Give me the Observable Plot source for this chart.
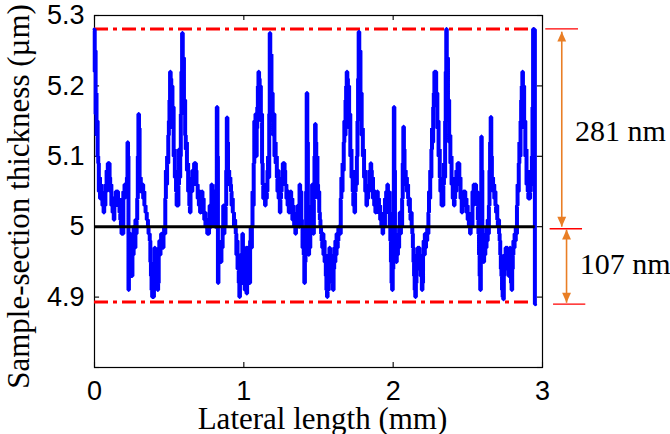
<!DOCTYPE html>
<html><head><meta charset="utf-8">
<script src="https://cdn.jsdelivr.net/npm/d3@7"></script>
<script src="https://cdn.jsdelivr.net/npm/@observablehq/plot@0.6"></script>
<style>html,body{margin:0;padding:0;background:#fff}#chart svg{display:block}</style>
</head><body><div id="chart"></div>
<script>
// ---- data ----
const xTicks = [0, 1, 2, 3];
const yTicks = [4.8, 4.9, 5, 5.1, 5.2, 5.3];
const yTickLabels = [4.9, 5, 5.1, 5.2, 5.3];
const meanLevel = 5.0;
const boundLevels = [5.281, 4.893];
const rangeLabels = ["281 nm", "107 nm"];
const profileEnd = 2.951;
// [lateral length (mm), thickness (µm)]
const profile = [
[0.000,5.28],[0.003,5.22],[0.006,5.25],[0.009,5.16],[0.012,5.19],[0.015,5.13],[0.019,5.15],[0.023,5.10],[0.027,5.09],[0.031,5.05],[0.035,5.07],[0.039,5.04],[0.043,5.06],[0.047,5.04],[0.051,5.05],[0.055,5.03],[0.059,5.04],[0.063,5.02],[0.067,5.04],[0.071,5.03],[0.075,5.06],[0.079,5.05],[0.083,5.08],[0.087,5.07],[0.091,5.09],[0.095,5.08],[0.099,5.09],[0.103,5.07],[0.107,5.05],[0.111,5.06],[0.115,5.03],[0.119,5.04],[0.123,5.02],[0.127,5.04],[0.131,5.01],[0.135,5.04],[0.140,5.03],[0.145,5.05],[0.150,5.04],[0.155,5.05],[0.160,5.03],[0.165,5.04],[0.170,5.02],[0.175,5.01],[0.179,5.00],[0.183,4.99],[0.187,5.00],[0.191,4.99],[0.195,5.05],[0.199,5.04],[0.203,5.06],[0.207,5.05],[0.211,5.06],[0.215,5.05],[0.219,5.07],[0.223,5.12],[0.226,5.10],[0.229,4.91],[0.232,4.96],[0.236,4.94],[0.240,4.99],[0.244,4.96],[0.248,4.97],[0.252,4.93],[0.256,4.97],[0.260,4.96],[0.264,5.00],[0.268,4.98],[0.272,4.97],[0.276,5.01],[0.280,4.99],[0.284,5.01],[0.288,5.04],[0.292,5.10],[0.296,5.16],[0.300,5.14],[0.304,5.06],[0.308,5.07],[0.312,5.05],[0.316,5.06],[0.320,5.05],[0.324,5.06],[0.328,5.04],[0.332,5.05],[0.336,5.03],[0.340,5.03],[0.344,5.02],[0.348,5.02],[0.352,5.01],[0.356,5.01],[0.360,5.00],[0.364,4.99],[0.368,4.99],[0.372,4.98],[0.376,4.95],[0.380,4.93],[0.384,4.91],[0.388,4.90],[0.392,4.91],[0.396,4.90],[0.400,4.93],[0.404,4.97],[0.408,4.94],[0.412,4.95],[0.416,4.93],[0.420,4.96],[0.424,4.91],[0.428,4.92],[0.432,4.97],[0.436,4.98],[0.440,4.96],[0.444,4.97],[0.448,4.99],[0.452,4.97],[0.456,4.98],[0.460,4.97],[0.464,4.99],[0.468,5.00],[0.472,4.99],[0.476,5.04],[0.480,5.08],[0.484,5.06],[0.488,5.10],[0.492,5.09],[0.496,5.13],[0.500,5.15],[0.504,5.18],[0.508,5.22],[0.512,5.21],[0.516,5.18],[0.520,5.20],[0.524,5.14],[0.528,5.17],[0.532,5.10],[0.536,5.11],[0.540,5.07],[0.544,5.08],[0.548,5.05],[0.552,5.03],[0.556,5.05],[0.560,5.03],[0.564,5.06],[0.568,5.11],[0.572,5.07],[0.576,5.10],[0.580,5.16],[0.584,5.22],[0.589,5.275],
[0.593,5.20],[0.597,5.24],[0.601,5.16],[0.605,5.18],[0.609,5.13],[0.613,5.11],[0.617,5.12],[0.621,5.08],[0.625,5.09],[0.629,5.05],[0.633,5.07],[0.637,5.03],[0.641,5.02],[0.645,5.05],[0.649,5.07],[0.653,5.05],[0.657,5.08],[0.661,5.06],[0.665,5.08],[0.669,5.09],[0.673,5.07],[0.677,5.09],[0.681,5.08],[0.685,5.06],[0.689,5.06],[0.693,5.04],[0.697,5.05],[0.701,5.03],[0.705,5.05],[0.709,5.02],[0.713,5.04],[0.717,5.03],[0.721,5.05],[0.725,5.02],[0.729,5.04],[0.733,5.02],[0.737,5.01],[0.741,5.02],[0.745,5.00],[0.749,5.01],[0.753,5.00],[0.757,4.99],[0.761,5.01],[0.765,4.99],[0.769,5.00],[0.773,5.03],[0.777,5.01],[0.781,5.00],[0.785,5.06],[0.789,5.02],[0.793,5.04],[0.797,5.01],[0.801,5.05],[0.805,5.02],[0.809,5.00],[0.813,5.03],[0.817,5.06],[0.821,5.17],[0.825,5.10],[0.828,4.92],[0.832,4.96],[0.836,4.98],[0.840,4.95],[0.844,4.97],[0.848,4.95],[0.852,4.98],[0.856,4.97],[0.860,5.00],[0.864,5.03],[0.868,4.99],[0.872,5.01],[0.876,5.00],[0.880,5.03],[0.884,5.08],[0.888,5.155],[0.892,5.12],[0.896,5.07],[0.900,5.08],[0.904,5.06],[0.908,5.07],[0.912,5.06],[0.916,5.05],[0.920,5.03],[0.924,5.04],[0.928,5.02],[0.932,5.02],[0.936,5.00],[0.940,5.01],[0.944,5.00],[0.948,4.99],[0.952,4.96],[0.956,4.98],[0.960,4.94],[0.964,4.96],[0.968,4.92],[0.972,4.90],[0.976,4.93],[0.980,4.96],[0.984,4.92],[0.988,4.95],[0.992,4.99],[0.996,4.94],[1.000,4.96],[1.004,4.92],[1.008,4.91],[1.012,4.95],[1.016,4.97],[1.020,4.905],[1.024,4.93],[1.028,4.97],[1.032,4.94],[1.036,4.97],[1.040,4.92],[1.044,4.98],[1.048,5.00],[1.052,4.97],[1.056,5.00],[1.060,5.05],[1.064,5.03],[1.068,5.09],[1.072,5.15],[1.076,5.12],[1.080,5.16],[1.084,5.10],[1.088,5.14],[1.092,5.17],[1.096,5.20],[1.100,5.22],[1.104,5.21],[1.108,5.17],[1.112,5.20],[1.116,5.15],[1.120,5.16],[1.124,5.09],[1.128,5.06],[1.132,5.04],[1.136,5.06],[1.140,5.05],[1.144,5.03],[1.148,5.06],[1.152,5.04],[1.156,5.05],[1.160,5.08],[1.164,5.10],[1.168,5.07],[1.172,5.16],[1.175,5.275],
[1.179,5.20],[1.183,5.245],[1.187,5.16],[1.191,5.19],[1.195,5.15],[1.199,5.13],[1.203,5.16],[1.207,5.10],[1.211,5.12],[1.215,5.09],[1.219,5.10],[1.223,5.07],[1.227,5.05],[1.231,5.08],[1.235,5.04],[1.239,5.06],[1.243,5.02],[1.247,5.04],[1.251,5.05],[1.255,5.07],[1.259,5.06],[1.263,5.09],[1.267,5.07],[1.271,5.09],[1.275,5.08],[1.279,5.06],[1.283,5.06],[1.287,5.04],[1.291,5.05],[1.295,5.03],[1.299,5.05],[1.303,5.02],[1.307,5.04],[1.311,5.03],[1.315,5.05],[1.319,5.02],[1.323,5.04],[1.327,5.01],[1.331,5.03],[1.335,5.02],[1.339,5.00],[1.343,5.01],[1.347,4.99],[1.351,5.00],[1.355,5.02],[1.359,5.00],[1.363,5.03],[1.367,5.01],[1.371,5.00],[1.375,5.06],[1.379,5.03],[1.383,5.05],[1.387,5.01],[1.391,5.00],[1.395,4.97],[1.399,4.99],[1.403,4.96],[1.407,4.92],[1.411,4.95],[1.415,4.97],[1.419,5.05],[1.423,5.19],[1.427,5.12],[1.431,4.98],[1.435,4.96],[1.439,5.00],[1.443,4.97],[1.447,5.01],[1.451,4.99],[1.455,5.03],[1.459,5.06],[1.463,5.01],[1.467,4.99],[1.471,5.04],[1.475,5.10],[1.479,5.146],[1.483,5.12],[1.487,5.09],[1.491,5.10],[1.495,5.06],[1.499,5.04],[1.503,5.05],[1.507,5.02],[1.511,5.01],[1.515,5.00],[1.519,4.99],[1.523,4.98],[1.527,4.97],[1.531,4.99],[1.535,4.96],[1.539,4.98],[1.543,4.95],[1.547,4.96],[1.551,4.93],[1.555,4.91],[1.559,4.90],[1.563,4.93],[1.567,4.91],[1.571,4.95],[1.575,4.97],[1.579,4.94],[1.583,4.96],[1.587,4.93],[1.591,4.95],[1.595,4.92],[1.599,4.91],[1.603,4.94],[1.607,4.97],[1.611,4.95],[1.615,4.98],[1.619,4.96],[1.623,4.99],[1.627,4.97],[1.631,4.98],[1.635,5.00],[1.639,4.99],[1.643,5.00],[1.647,4.99],[1.651,5.04],[1.655,5.07],[1.659,5.05],[1.663,5.09],[1.667,5.08],[1.671,5.12],[1.675,5.15],[1.679,5.13],[1.683,5.18],[1.687,5.20],[1.691,5.22],[1.695,5.21],[1.699,5.18],[1.703,5.20],[1.707,5.14],[1.711,5.16],[1.715,5.10],[1.719,5.11],[1.723,5.07],[1.727,5.08],[1.731,5.05],[1.735,5.03],[1.739,5.05],[1.743,5.02],[1.747,5.05],[1.751,5.08],[1.755,5.06],[1.759,5.10],[1.763,5.15],[1.767,5.21],[1.771,5.277],
[1.775,5.21],[1.779,5.25],[1.783,5.17],[1.787,5.19],[1.791,5.13],[1.795,5.14],[1.799,5.10],[1.803,5.11],[1.807,5.07],[1.811,5.08],[1.815,5.05],[1.819,5.06],[1.823,5.03],[1.827,5.05],[1.831,5.04],[1.835,5.06],[1.839,5.05],[1.843,5.08],[1.847,5.07],[1.851,5.09],[1.855,5.08],[1.859,5.06],[1.863,5.07],[1.867,5.04],[1.871,5.05],[1.875,5.03],[1.879,5.05],[1.883,5.02],[1.887,5.04],[1.891,5.03],[1.895,5.05],[1.899,5.03],[1.903,5.04],[1.907,5.02],[1.911,5.03],[1.915,5.01],[1.919,5.02],[1.923,5.00],[1.927,5.01],[1.931,4.99],[1.935,5.00],[1.939,5.02],[1.943,5.00],[1.947,5.04],[1.951,5.02],[1.955,5.05],[1.959,5.03],[1.963,5.06],[1.967,5.04],[1.971,5.05],[1.975,5.02],[1.979,5.00],[1.983,4.98],[1.987,4.95],[1.991,4.92],[1.995,4.91],[1.999,4.94],[2.003,5.05],[2.006,5.17],[2.010,5.08],[2.014,4.96],[2.018,4.98],[2.022,4.95],[2.026,4.97],[2.030,4.96],[2.034,4.99],[2.038,4.97],[2.042,5.00],[2.046,5.02],[2.050,4.99],[2.054,5.01],[2.058,5.00],[2.062,5.04],[2.066,5.09],[2.070,5.142],[2.074,5.11],[2.078,5.07],[2.082,5.08],[2.086,5.06],[2.090,5.07],[2.094,5.05],[2.098,5.06],[2.102,5.04],[2.106,5.03],[2.110,5.04],[2.114,5.02],[2.118,5.01],[2.122,5.02],[2.126,5.00],[2.130,4.99],[2.134,4.97],[2.138,4.95],[2.142,4.93],[2.146,4.91],[2.150,4.90],[2.154,4.92],[2.158,4.96],[2.162,4.94],[2.166,4.97],[2.170,4.95],[2.174,4.97],[2.178,4.94],[2.182,4.96],[2.186,4.93],[2.190,4.95],[2.194,4.91],[2.198,4.92],[2.202,4.96],[2.206,4.98],[2.210,4.96],[2.214,4.99],[2.218,4.97],[2.222,4.99],[2.226,4.98],[2.230,5.00],[2.234,4.99],[2.238,5.02],[2.242,5.05],[2.246,5.04],[2.250,5.08],[2.254,5.07],[2.258,5.11],[2.262,5.14],[2.266,5.12],[2.270,5.17],[2.274,5.19],[2.278,5.22],[2.282,5.21],[2.286,5.22],[2.290,5.18],[2.294,5.19],[2.298,5.14],[2.302,5.15],[2.306,5.10],[2.310,5.11],[2.314,5.07],[2.318,5.05],[2.322,5.06],[2.326,5.03],[2.330,5.04],[2.334,5.03],[2.338,5.06],[2.342,5.09],[2.346,5.07],[2.350,5.15],[2.354,5.22],[2.357,5.281],
[2.361,5.20],[2.365,5.24],[2.369,5.16],[2.373,5.18],[2.377,5.12],[2.381,5.13],[2.385,5.09],[2.389,5.10],[2.393,5.06],[2.397,5.07],[2.401,5.04],[2.405,5.05],[2.409,5.03],[2.413,5.04],[2.417,5.06],[2.421,5.05],[2.425,5.08],[2.429,5.07],[2.433,5.09],[2.437,5.08],[2.441,5.09],[2.445,5.06],[2.449,5.07],[2.453,5.04],[2.457,5.05],[2.461,5.02],[2.465,5.04],[2.469,5.03],[2.473,5.05],[2.477,5.04],[2.481,5.05],[2.485,5.03],[2.489,5.04],[2.493,5.02],[2.497,5.03],[2.501,5.01],[2.505,5.02],[2.509,5.00],[2.513,5.01],[2.517,4.99],[2.521,5.00],[2.525,5.02],[2.529,5.00],[2.533,5.05],[2.537,5.03],[2.541,5.06],[2.545,5.04],[2.549,5.05],[2.553,5.06],[2.557,5.04],[2.561,5.05],[2.565,5.03],[2.569,5.01],[2.573,4.99],[2.577,4.96],[2.581,4.93],[2.585,4.91],[2.589,5.05],[2.591,5.128],[2.595,5.08],[2.599,4.96],[2.603,4.98],[2.607,4.95],[2.611,4.97],[2.615,4.96],[2.619,4.99],[2.623,4.97],[2.627,5.00],[2.631,4.98],[2.635,5.01],[2.639,4.99],[2.643,5.03],[2.647,5.08],[2.651,5.12],[2.655,5.156],[2.659,5.10],[2.663,5.06],[2.667,5.07],[2.671,5.05],[2.675,5.06],[2.679,5.04],[2.683,5.05],[2.687,5.03],[2.691,5.02],[2.695,5.03],[2.699,5.01],[2.703,5.00],[2.707,5.01],[2.711,4.99],[2.715,4.98],[2.719,4.96],[2.723,4.94],[2.727,4.93],[2.731,4.91],[2.735,4.90],[2.739,4.897],[2.743,4.93],[2.747,4.96],[2.751,4.94],[2.755,4.97],[2.759,4.95],[2.763,4.97],[2.767,4.94],[2.771,4.96],[2.775,4.93],[2.779,4.95],[2.783,4.97],[2.787,4.94],[2.791,4.92],[2.795,4.91],[2.799,4.94],[2.803,4.96],[2.807,4.98],[2.811,4.97],[2.815,4.99],[2.819,4.98],[2.823,5.00],[2.827,4.99],[2.831,5.03],[2.835,5.06],[2.839,5.05],[2.843,5.09],[2.847,5.12],[2.851,5.10],[2.855,5.15],[2.859,5.18],[2.863,5.20],[2.867,5.22],[2.871,5.19],[2.875,5.20],[2.879,5.14],[2.883,5.15],[2.887,5.10],[2.891,5.11],[2.895,5.06],[2.899,5.08],[2.903,5.05],[2.907,5.04],[2.911,5.06],[2.915,5.04],[2.919,5.05],[2.923,5.08],[2.927,5.06],[2.931,5.10],[2.935,5.17],[2.939,5.281],[2.943,5.23],[2.947,5.28],[2.951,4.89]
];

// ---- styling / layout ----
const BLUE = "#0000ff", RED = "#ff0000", ORANGE = "#e97e25";
const serif = "'Liberation Serif', 'Times New Roman', serif";

const triUp = {draw(ctx, size) { const r = Math.sqrt(size / Math.PI), w = r * 1.3, h = r * 2.9;
  ctx.moveTo(0, 0); ctx.lineTo(w, h); ctx.lineTo(-w, h); ctx.closePath(); }};
const triDown = {draw(ctx, size) { const r = Math.sqrt(size / Math.PI), w = r * 1.3, h = r * 2.9;
  ctx.moveTo(0, 0); ctx.lineTo(w, -h); ctx.lineTo(-w, -h); ctx.closePath(); }};

const upper = boundLevels[0], lower = boundLevels[1];
const arrowX1 = 3.129, arrowX2 = 3.161;

const chart = Plot.plot({
  width: 670, height: 434,
  marginLeft: 94, marginRight: 128, marginTop: 15, marginBottom: 67,
  x: {domain: [0, 3]},
  y: {domain: [4.8, 5.3]},
  style: {fontFamily: "'Liberation Sans', Arial, sans-serif", fontSize: "27px", background: "white", color: "black", overflow: "visible"},
  marks: [
    Plot.frame({stroke: "black", strokeWidth: 1.2}),
    // inward ticks on all four sides
    Plot.ruleY(yTicks, {x1: 0, x2: 0.034, stroke: "black", strokeWidth: 1.1}),
    Plot.ruleY(yTicks, {x1: 2.966, x2: 3, stroke: "black", strokeWidth: 1.1}),
    Plot.ruleX(xTicks, {y1: 4.8, y2: 4.8072, stroke: "black", strokeWidth: 1.1}),
    Plot.ruleX(xTicks, {y1: 5.2928, y2: 5.3, stroke: "black", strokeWidth: 1.1}),
    Plot.axisY({ticks: yTickLabels, tickSize: 0, tickPadding: 10, tickFormat: d => String(d), label: null}),
    Plot.axisX({ticks: xTicks, tickSize: 0, tickPadding: 13, tickFormat: d => String(d), label: null}),
    // bounds (dash-dot)
    Plot.ruleY(boundLevels, {x1: 0, x2: profileEnd, stroke: RED, strokeWidth: 3, strokeDasharray: "14,5,4,5"}),
    // profile
    Plot.line(profile, {x: d => d[0], y: d => d[1], stroke: BLUE, strokeWidth: 4, curve: "step", strokeLinejoin: "miter"}),
    // mean line
    Plot.ruleY([meanLevel], {x1: 0, x2: profileEnd, stroke: "black", strokeWidth: 3}),
    // right-side annotation: red reference ticks
    Plot.ruleY([upper], {x1: 3.022, x2: 3.241, stroke: RED, strokeWidth: 1.4}),
    Plot.ruleY([meanLevel - 0.003], {x1: 3.051, x2: 3.268, stroke: RED, strokeWidth: 1.4}),
    Plot.ruleY([lower - 0.003], {x1: 3.074, x2: 3.29, stroke: RED, strokeWidth: 1.4}),
    // arrows
    Plot.link([0], {x1: arrowX1, x2: arrowX1, y1: upper - 0.004, y2: meanLevel, stroke: ORANGE, strokeWidth: 1.6}),
    Plot.link([0], {x1: arrowX2, x2: arrowX2, y1: meanLevel - 0.004, y2: lower - 0.001, stroke: ORANGE, strokeWidth: 1.6}),
    Plot.dot([upper - 0.004], {x: arrowX1, y: d => d, symbol: triUp, r: 3.4, fill: ORANGE, stroke: "none"}),
    Plot.dot([meanLevel], {x: arrowX1, y: d => d, symbol: triDown, r: 3.4, fill: ORANGE, stroke: "none"}),
    Plot.dot([meanLevel - 0.004], {x: arrowX2, y: d => d, symbol: triUp, r: 3.4, fill: ORANGE, stroke: "none"}),
    Plot.dot([lower - 0.001], {x: arrowX2, y: d => d, symbol: triDown, r: 3.4, fill: ORANGE, stroke: "none"}),
    Plot.text([rangeLabels[0]], {x: 3.217, y: 5.136, text: d => d, textAnchor: "start", fontFamily: serif, fontSize: 30}),
    Plot.text([rangeLabels[1]], {x: 3.25, y: 4.947, text: d => d, textAnchor: "start", fontFamily: serif, fontSize: 30}),
    // axis titles
    Plot.text(["Lateral length (mm)"], {frameAnchor: "bottom", textAnchor: "middle", dx: 4, dy: 61, lineAnchor: "bottom", fontFamily: serif, fontSize: 31}),
    Plot.text(["Sample-section thickness (µm)"], {frameAnchor: "left", textAnchor: "middle", rotate: -90, dx: -66, dy: 5, lineAnchor: "bottom", fontFamily: serif, fontSize: 31})
  ]
});
document.getElementById("chart").appendChild(chart);
</script>
</body></html>
